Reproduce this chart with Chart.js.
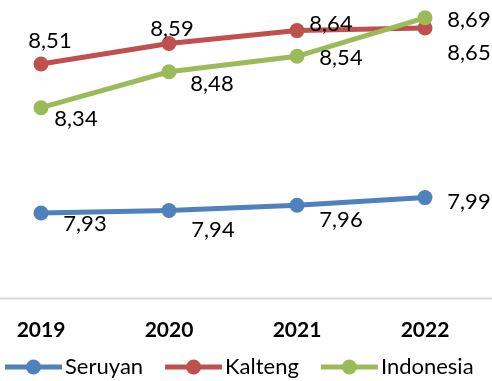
<!DOCTYPE html>
<html>
<head>
<meta charset="utf-8">
<script src="https://cdn.jsdelivr.net/npm/chart.js@4/dist/chart.umd.min.js"></script>
<style>
  html, body { margin: 0; padding: 0; background: #fff; }
  #chart { display: block; }
</style>
</head>
<body>
<canvas id="chart" width="492" height="381"></canvas>
<script>
const years = ["2019", "2020", "2021", "2022"];
const seruyan = [7.93, 7.94, 7.96, 7.99];
const kalteng = [8.51, 8.59, 8.64, 8.65];
const indonesia = [8.34, 8.48, 8.54, 8.69];

// label offsets from each point (px)
const seruyanLabelPos = [[44, 11], [44, 19], [44, 15], [44, 4]];
const kaltengLabelPos = [[9, -23], [3, -15], [34, -7], [44, 25]];
const indonesiaLabelPos = [[35, 11], [43, 12], [44, 2], [44, 2]];

const BLUE = "#4f81bd";
const RED = "#c0504d";
const GREEN = "#9bbb59";

function series(label, data, color, labelPos, order) {
  return {
    label: label,
    data: data,
    borderColor: color,
    backgroundColor: color,
    borderWidth: 5,
    pointRadius: 7.5,
    pointHoverRadius: 7.5,
    pointBorderWidth: 0,
    tension: 0,
    clip: false,
    order: order,
    labelPos: labelPos,
  };
}

// gray baseline across the full width
const baseLine = {
  id: "baseLine",
  beforeDatasetsDraw(chart) {
    const y = chart.scales.y;
    const py = Math.round(y.getPixelForValue(y.min)) + 0.5;
    const ctx = chart.ctx;
    ctx.save();
    ctx.strokeStyle = "#d9d9d9";
    ctx.lineWidth = 2;
    ctx.beginPath();
    ctx.moveTo(0, py);
    ctx.lineTo(chart.width, py);
    ctx.stroke();
    ctx.restore();
  },
};

// value labels with comma decimals
const valueLabels = {
  id: "valueLabels",
  afterDatasetsDraw(chart) {
    const ctx = chart.ctx;
    ctx.save();
    ctx.font = "22px Lato";
    ctx.fillStyle = "#000";
    ctx.textAlign = "center";
    ctx.textBaseline = "middle";
    chart.data.datasets.forEach((ds, i) => {
      const meta = chart.getDatasetMeta(i);
      meta.data.forEach((pt, j) => {
        const off = ds.labelPos[j];
        const txt = ds.data[j].toFixed(2).replace(".", ",");
        ctx.fillText(txt, pt.x + off[0], pt.y + off[1]);
      });
    });
    ctx.restore();
  },
};

// legend row: line with marker, then the series name
const lineLegend = {
  id: "lineLegend",
  afterDraw(chart) {
    const ctx = chart.ctx;
    const y = 367;
    let x = 5;
    ctx.save();
    ctx.font = "22px Lato";
    ctx.textAlign = "left";
    ctx.textBaseline = "middle";
    chart.data.datasets.forEach((ds) => {
      ctx.strokeStyle = ds.borderColor;
      ctx.lineWidth = 5;
      ctx.beginPath();
      ctx.moveTo(x, y);
      ctx.lineTo(x + 57, y);
      ctx.stroke();
      ctx.fillStyle = ds.borderColor;
      ctx.beginPath();
      ctx.arc(x + 28.5, y, 7.5, 0, Math.PI * 2);
      ctx.fill();
      ctx.fillStyle = "#000";
      ctx.fillText(ds.label, x + 60, y);
      x += 60 + ctx.measureText(ds.label).width + 22;
    });
    ctx.restore();
  },
};

new Chart(document.getElementById("chart"), {
  type: "line",
  data: {
    labels: years,
    datasets: [
      series("Seruyan", seruyan, BLUE, seruyanLabelPos, 2),
      series("Kalteng", kalteng, RED, kaltengLabelPos, 1),
      series("Indonesia", indonesia, GREEN, indonesiaLabelPos, 0),
    ],
  },
  options: {
    responsive: false,
    animation: false,
    layout: {
      padding: { top: 0, left: 0, right: 0, bottom: 26 },
    },
    scales: {
      x: {
        offset: false,
        grid: { display: false },
        border: { display: false },
        ticks: {
          color: "#000",
          padding: 12,
          font: { family: "Lato", size: 21, weight: "bold" },
        },
        afterFit(scale) {
          scale.paddingLeft = 41;
          scale.paddingRight = 67;
        },
      },
      y: {
        display: false,
        min: 7.6,
        max: 8.73,
      },
    },
    plugins: {
      tooltip: { enabled: false },
      legend: { display: false },
    },
  },
  plugins: [baseLine, valueLabels, lineLegend],
});
</script>
</body>
</html>
